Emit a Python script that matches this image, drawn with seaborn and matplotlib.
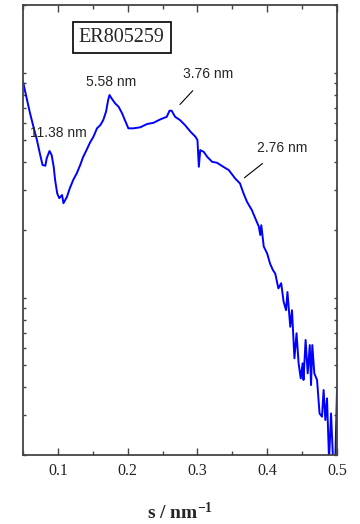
import numpy as np
import pandas as pd
import matplotlib
matplotlib.use("Agg")
import matplotlib.pyplot as plt
from matplotlib.ticker import LogLocator, NullFormatter, MultipleLocator
import seaborn as sns

# Scattering profile: s (nm^-1) vs intensity (log scale)
s_values = [
    0.050, 0.060, 0.065, 0.070, 0.074, 0.078, 0.082, 0.084, 0.088, 0.091,
    0.094, 0.096, 0.099, 0.102, 0.106, 0.108, 0.113, 0.117, 0.122, 0.127,
    0.132, 0.136, 0.141, 0.146, 0.151, 0.156, 0.161, 0.165, 0.169, 0.172,
    0.174, 0.177, 0.182, 0.187, 0.192, 0.196, 0.201, 0.208, 0.218, 0.228,
    0.237, 0.247, 0.256, 0.260, 0.263, 0.268, 0.275, 0.282, 0.290, 0.297,
    0.300, 0.302, 0.304, 0.309, 0.314, 0.321, 0.328, 0.337, 0.345, 0.354,
    0.361, 0.366, 0.371, 0.378, 0.383, 0.388, 0.390, 0.3915, 0.395, 0.400,
    0.404, 0.408, 0.4115, 0.416, 0.420, 0.4235, 0.427, 0.429, 0.433, 0.4355,
    0.439, 0.442, 0.445, 0.448, 0.4507, 0.452, 0.455, 0.458, 0.461, 0.4628,
    0.4646, 0.4675, 0.4714, 0.475, 0.4785, 0.4808, 0.4833, 0.4857, 0.4886, 0.4915,
    0.4943, 0.4976, 0.500,
]
intensity = [
    9.12, 6.62, 5.75, 5.02, 4.40, 3.89, 3.86, 4.17, 4.49, 4.31,
    3.82, 3.34, 2.91, 2.77, 2.86, 2.63, 2.81, 3.06, 3.34, 3.57,
    3.89, 4.21, 4.53, 4.89, 5.20, 5.66, 5.86, 6.16, 6.71, 7.56,
    7.96, 7.69, 7.31, 7.06, 6.60, 6.16, 5.66, 5.66, 5.72, 5.92,
    5.99, 6.21, 6.37, 6.78, 6.78, 6.37, 6.16, 5.86, 5.47, 5.20,
    5.02, 3.82, 4.53, 4.45, 4.23, 4.02, 3.98, 3.82, 3.69, 3.39,
    3.22, 2.91, 2.67, 2.45, 2.25, 2.07, 1.90, 2.10, 1.69, 1.57,
    1.42, 1.33, 1.28, 1.10, 1.16, 0.96, 0.88, 1.06, 0.743, 0.88,
    0.538, 0.695, 0.511, 0.438, 0.511, 0.431, 0.649, 0.461, 0.616, 0.409,
    0.616, 0.461, 0.431, 0.306, 0.296, 0.389, 0.286, 0.357, 0.19, 0.306,
    0.19, 0.19, 0.389,
]

sample_name = "ER805259"
peak_labels = ["11.38 nm", "5.58 nm", "3.76 nm", "2.76 nm"]
x_ticks = [0.1, 0.2, 0.3, 0.4, 0.5]
x_tick_labels = ["0.1", "0.2", "0.3", "0.4", "0.5"]

df = pd.DataFrame({"s": s_values, "I": intensity})

sns.set_theme(style="ticks")
plt.rcParams["font.family"] = ["Liberation Serif", "DejaVu Serif"]
plt.rcParams["mathtext.fontset"] = "custom"
plt.rcParams["mathtext.rm"] = "Liberation Serif"
plt.rcParams["mathtext.it"] = "Liberation Serif:italic"
plt.rcParams["mathtext.bf"] = "Liberation Serif:bold"

fig = plt.figure(figsize=(3.6, 5.24), dpi=100)
ax = fig.add_axes([23 / 360, 69 / 524, 314 / 360, 450 / 524])

sns.lineplot(data=df, x="s", y="I", ax=ax, color="#0000ff", linewidth=1.4,
             estimator=None, sort=False)

ax.set_yscale("log")
ax.set_xlim(0.05, 0.5)
ax.set_ylim(0.2, 20)

ax.yaxis.set_major_locator(LogLocator(base=10, subs=np.arange(1, 10)))
ax.yaxis.set_minor_locator(LogLocator(base=10, subs=[]))
ax.yaxis.set_major_formatter(NullFormatter())
ax.yaxis.set_minor_formatter(NullFormatter())

ax.set_xticks(x_ticks)
ax.set_xticklabels(x_tick_labels)
ax.xaxis.set_minor_locator(MultipleLocator(0.05))

spine_col = "#444444"
for sp in ax.spines.values():
    sp.set_visible(True)
    sp.set_color(spine_col)
    sp.set_linewidth(1.3)

ax.tick_params(axis="both", which="both", direction="in", top=True, right=True,
               color=spine_col, width=1.0)
ax.tick_params(axis="x", which="major", length=5, labelsize=11.5, pad=6,
               labelcolor="#222222")
ax.tick_params(axis="x", which="minor", length=3)
ax.tick_params(axis="y", which="both", length=2.5, labelleft=False)

ax.set_ylabel("")
ax.set_xlabel(r"s / nm$^{\mathbf{-1}}$", fontsize=14, fontweight="bold",
              labelpad=16)

ax.text(0.314, 0.927, sample_name, transform=ax.transAxes, ha="center", va="center",
        fontsize=14.5, family=["Liberation Serif"],
        bbox=dict(boxstyle="square,pad=0.3", fc="white", ec="black", lw=1.2))

sans = ["Liberation Sans", "DejaVu Sans"]
ax.text(0.112, 0.716, peak_labels[0], transform=ax.transAxes, ha="center",
        va="center", fontsize=10, family=sans, zorder=5)
ax.text(0.282, 0.830, peak_labels[1], transform=ax.transAxes, ha="center",
        va="center", fontsize=10, family=sans, zorder=5)
ax.annotate(peak_labels[2], xy=(0.500, 0.779), xytext=(0.589, 0.846),
            xycoords="axes fraction", textcoords="axes fraction",
            ha="center", va="center", fontsize=10, family=sans,
            arrowprops=dict(arrowstyle="-", color="black", lw=0.8,
                            shrinkA=6, shrinkB=0))
ax.annotate(peak_labels[3], xy=(0.705, 0.616), xytext=(0.825, 0.682),
            xycoords="axes fraction", textcoords="axes fraction",
            ha="center", va="center", fontsize=10, family=sans,
            arrowprops=dict(arrowstyle="-", color="black", lw=0.8,
                            shrinkA=6, shrinkB=0))

fig.savefig("out.png", dpi=100)
